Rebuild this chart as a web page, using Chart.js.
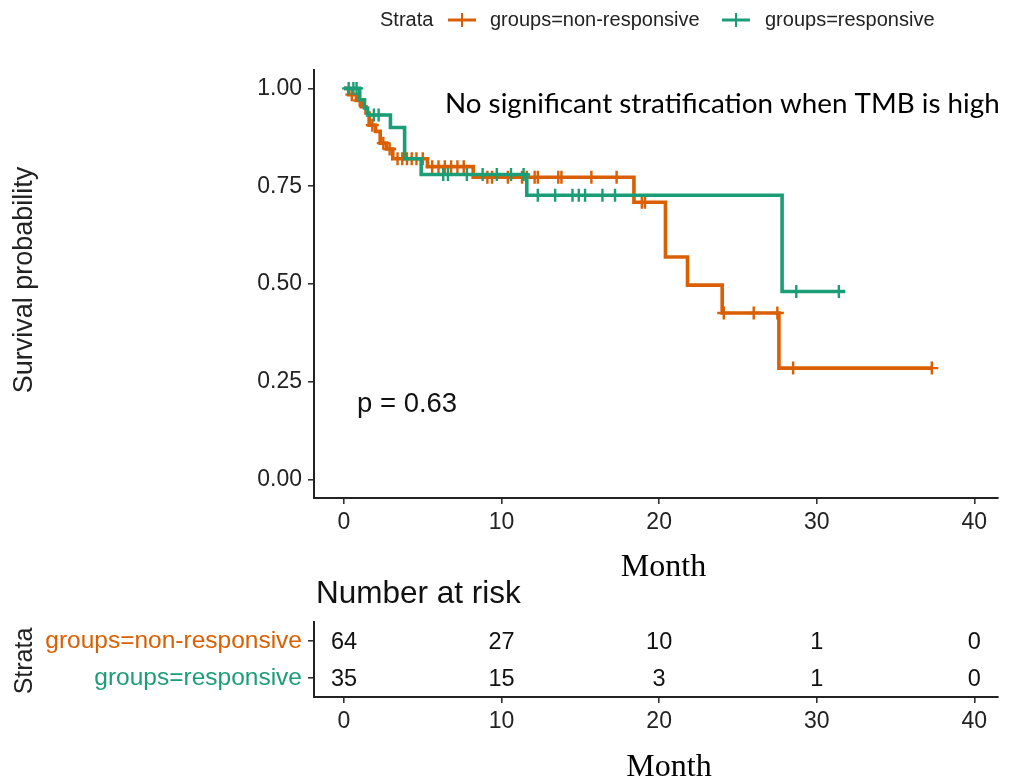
<!DOCTYPE html>
<html><head><meta charset="utf-8">
<script src="https://cdn.jsdelivr.net/npm/chart.js@4"></script>
<style>
body{margin:0;background:#fff;width:1030px;height:780px;overflow:hidden;position:relative;}
canvas{position:absolute;left:0;}
</style></head><body>
<canvas id="km" width="1030" height="580" style="top:0px"></canvas>
<canvas id="risk" width="1030" height="200" style="top:580px"></canvas>
<script>
// ---------- data ----------
const xTicks = [0, 10, 20, 30, 40];
const yTicks = [0, 0.25, 0.5, 0.75, 1];

const nonRespTime = [0, 0.3, 0.8, 1.1, 1.4, 1.6, 2.0, 2.3, 2.7, 3.1, 5.3, 8.2, 18.4, 20.4, 21.8, 24.0, 27.6, 37.3];
const nonRespSurv = [1, 0.984, 0.969, 0.953, 0.937, 0.906, 0.89, 0.86, 0.845, 0.82, 0.80, 0.773, 0.709, 0.569, 0.497, 0.426, 0.285, 0.285];
const nonRespCensor = [0.5, 1.0, 1.8, 2.5, 2.9, 3.4, 3.7, 4.0, 4.3, 4.6, 5.0, 5.6, 6.0, 6.4, 6.8, 7.2, 7.6, 9.1, 9.4, 10.4, 11.3, 11.6, 12.1, 12.3, 13.6, 13.8, 15.7, 17.3, 18.9, 19.1, 24.1, 26.0, 27.5, 28.5, 37.3];

const respTime = [0, 1.0, 1.3, 1.5, 2.95, 3.85, 4.9, 11.6, 27.8, 31.8];
const respSurv = [1, 0.971, 0.95, 0.932, 0.90, 0.82, 0.78, 0.727, 0.481, 0.481];
const respCensor = [0.3, 0.6, 0.8, 1.9, 2.2, 6.3, 6.6, 7.8, 8.8, 9.7, 10.6, 11.4, 12.3, 13.4, 14.5, 14.9, 15.3, 16.4, 17.2, 28.7, 31.4];

const riskGroups = ['groups=non-responsive', 'groups=responsive'];
const riskTimes = [0, 10, 20, 30, 40];
const riskNonResp = [64, 27, 10, 1, 0];
const riskResp = [35, 15, 3, 1, 0];

// ---------- styles ----------
const ORANGE = '#D95F02';
const GREEN = '#1B9E77';
const SANS = "'Liberation Sans', Arial, sans-serif";
const SERIF = "'Liberation Serif', 'Times New Roman', serif";

function survAt(times, surv, t) {
  let s = surv[0];
  for (let i = 0; i < times.length; i++) if (times[i] <= t) s = surv[i];
  return s;
}
const curve = (T, S) => T.map((t, i) => ({x: t, y: S[i]}));
const cens = (C, T, S) => C.map(t => ({x: t, y: survAt(T, S, t)}));

const xScaleBase = {
  type: 'linear', min: -1.9, max: 41.5,
  afterBuildTicks: s => { s.ticks = xTicks.map(v => ({value: v})); },
  ticks: {font: {family: SANS, size: 23}, color: '#222', padding: 5, maxRotation: 0,
          callback: v => String(v)},
  grid: {display: true, drawOnChartArea: false, drawTicks: true, tickLength: 6, color: '#333', lineWidth: 1.6},
  border: {display: true, color: '#222', width: 2}
};

const textPlugin1 = {
  id: 'texts1',
  afterDraw(chart) {
    const ctx = chart.ctx;
    ctx.save();
    ctx.fillStyle = '#000';
    // annotation
    ctx.font = "24px Lato, 'Open Sans', sans-serif";
    let w = ctx.measureText('No significant stratification when TMB is high').width;
    let size = 24 * 555 / w;
    ctx.font = size.toFixed(2) + "px Lato, 'Open Sans', sans-serif";
    ctx.textBaseline = 'alphabetic';
    ctx.textAlign = 'left';
    ctx.fillText('No significant stratification when TMB is high', 445, 113);
    // p value
    ctx.fillStyle = '#111';
    ctx.font = '27.5px ' + SANS;
    ctx.fillText('p = 0.63', 357, 412);
    // Month
    ctx.fillStyle = '#000';
    ctx.font = '32px ' + SERIF;
    ctx.textAlign = 'center';
    ctx.fillText('Month', 663.5, 576);
    // y title
    ctx.fillStyle = '#222';
    ctx.font = '27px ' + SANS;
    ctx.translate(25, 280);
    ctx.rotate(-Math.PI / 2);
    ctx.textBaseline = 'middle';
    ctx.fillText('Survival probability', 0, 0);
    ctx.restore();

    // legend
    ctx.save();
    ctx.font = '20px ' + SANS;
    ctx.fillStyle = '#222';
    ctx.textBaseline = 'middle';
    ctx.textAlign = 'left';
    const ly = 20;
    ctx.fillText('Strata', 380, ly);
    const sym = (x0, col) => {
      ctx.strokeStyle = col; ctx.lineWidth = 3;
      ctx.beginPath(); ctx.moveTo(x0, ly); ctx.lineTo(x0 + 28, ly); ctx.stroke();
      ctx.lineWidth = 2;
      ctx.beginPath(); ctx.moveTo(x0 + 14, ly - 7); ctx.lineTo(x0 + 14, ly + 7); ctx.stroke();
    };
    sym(448, ORANGE);
    ctx.fillText(riskGroups[0], 490, ly);
    sym(722, GREEN);
    ctx.fillText(riskGroups[1], 765, ly);
    ctx.restore();
  }
};

new Chart(document.getElementById('km'), {
  type: 'scatter',
  data: {
    datasets: [
      {label: 'groups=responsive censor', data: cens(respCensor, respTime, respSurv), showLine: false,
       pointStyle: 'cross', pointRadius: 6.5, pointBorderWidth: 2.4, borderColor: GREEN, backgroundColor: GREEN, order: 1},
      {label: 'groups=responsive', data: curve(respTime, respSurv), showLine: true, stepped: 'before',
       borderColor: GREEN, borderWidth: 3.6, pointRadius: 0, fill: false, order: 2},
      {label: 'groups=non-responsive censor', data: cens(nonRespCensor, nonRespTime, nonRespSurv), showLine: false,
       pointStyle: 'cross', pointRadius: 6.5, pointBorderWidth: 2.4, borderColor: ORANGE, backgroundColor: ORANGE, order: 3},
      {label: 'groups=non-responsive', data: curve(nonRespTime, nonRespSurv), showLine: true, stepped: 'before',
       borderColor: ORANGE, borderWidth: 3.6, pointRadius: 0, fill: false, order: 4}
    ]
  },
  options: {
    responsive: false, animation: false, devicePixelRatio: 1,
    layout: {padding: {top: 70, right: 32, left: 0, bottom: 0}},
    plugins: {legend: {display: false}, tooltip: {enabled: false}},
    scales: {
      x: Object.assign({}, xScaleBase, {afterFit: s => { s.height = 82; }}),
      y: {
        type: 'linear', min: -0.047, max: 1.047,
        afterBuildTicks: s => { s.ticks = yTicks.map(v => ({value: v})); },
        afterFit: s => { s.width = 314; },
        ticks: {font: {family: SANS, size: 23}, color: '#222', padding: 6, callback: v => Number(v).toFixed(2)},
        grid: {display: true, drawOnChartArea: false, drawTicks: true, tickLength: 6, color: '#333', lineWidth: 1.6},
        border: {display: true, color: '#222', width: 2}
      }
    }
  },
  plugins: [textPlugin1]
});

// ---------- risk table ----------
const riskValues = [riskNonResp, riskResp];
const textPlugin2 = {
  id: 'texts2',
  afterDatasetsDraw(chart) {
    const ctx = chart.ctx;
    ctx.save();
    ctx.fillStyle = '#111';
    ctx.font = '23.5px ' + SANS;
    ctx.textAlign = 'center';
    ctx.textBaseline = 'middle';
    chart.data.datasets.forEach((ds, di) => {
      const meta = chart.getDatasetMeta(di);
      meta.data.forEach((pt, i) => ctx.fillText(String(riskValues[di][i]), pt.x, pt.y + 1.5));
    });
    ctx.restore();
  },
  afterDraw(chart) {
    const ctx = chart.ctx;
    ctx.save();
    ctx.fillStyle = '#111';
    ctx.textAlign = 'left';
    ctx.textBaseline = 'middle';
    ctx.font = '31.5px ' + SANS;
    ctx.fillText('Number at risk', 316, 14);
    ctx.fillStyle = '#000';
    ctx.font = '32px ' + SERIF;
    ctx.textAlign = 'center';
    ctx.textBaseline = 'alphabetic';
    ctx.fillText('Month', 669, 196);
    ctx.fillStyle = '#222';
    ctx.font = '25px ' + SANS;
    ctx.translate(25, 81);
    ctx.rotate(-Math.PI / 2);
    ctx.textBaseline = 'middle';
    ctx.fillText('Strata', 0, 0);
    ctx.restore();
  }
};

new Chart(document.getElementById('risk'), {
  type: 'scatter',
  data: {
    datasets: riskValues.map((vals, g) => ({
      label: riskGroups[g],
      data: riskTimes.map(t => ({x: t, y: riskGroups[g]})),
      pointRadius: 0, showLine: false
    }))
  },
  options: {
    responsive: false, animation: false, devicePixelRatio: 1,
    layout: {padding: {top: 42, right: 32, left: 0, bottom: 0}},
    plugins: {legend: {display: false}, tooltip: {enabled: false}},
    scales: {
      x: Object.assign({}, xScaleBase, {afterFit: s => { s.height = 83; }}),
      y: {
        type: 'category', labels: riskGroups, offset: true,
        afterFit: s => { s.width = 314; },
        ticks: {font: {family: SANS, size: 24.5}, padding: 6,
                color: c => (c.index === 0 ? ORANGE : GREEN)},
        grid: {display: true, drawOnChartArea: false, drawTicks: true, tickLength: 6, color: '#333', lineWidth: 1.6, offset: false},
        border: {display: true, color: '#222', width: 2}
      }
    }
  },
  plugins: [textPlugin2]
});
</script>
</body></html>
